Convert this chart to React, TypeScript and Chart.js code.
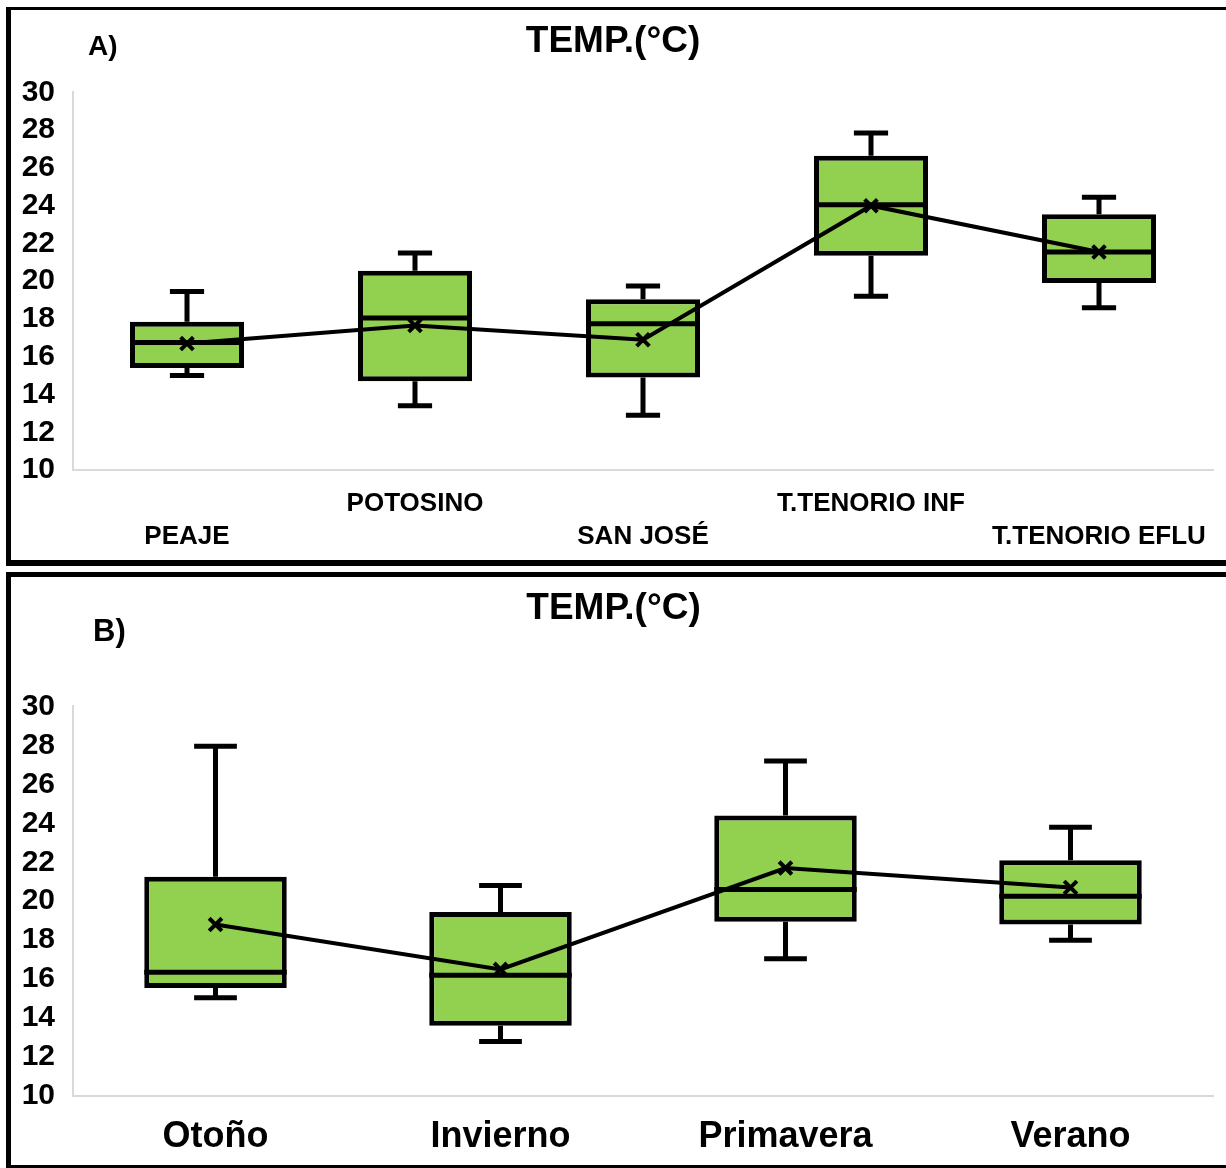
import React, { useEffect, useRef } from 'react';
import { Chart, registerables } from 'chart.js';

Chart.register(...registerables);

// ---------- Data ----------
const siteLabels = ['PEAJE', 'POTOSINO', 'SAN JOSÉ', 'T.TENORIO INF', 'T.TENORIO EFLU'];
const siteMin = [15.0, 13.4, 12.9, 19.2, 18.6];
const siteQ1 = [15.4, 14.7, 14.9, 21.35, 19.9];
const siteMedian = [16.75, 18.05, 17.75, 24.05, 21.55];
const siteQ3 = [17.85, 20.55, 19.05, 26.65, 23.55];
const siteMax = [19.45, 21.5, 19.75, 27.85, 24.45];
const siteMean = [16.7, 17.65, 16.9, 24.0, 21.55];

const seasonLabels = ['Otoño', 'Invierno', 'Primavera', 'Verano'];
const seasonMin = [15.05, 12.8, 17.05, 18.0];
const seasonQ1 = [15.55, 13.6, 18.95, 18.8];
const seasonMedian = [16.35, 16.2, 20.6, 20.25];
const seasonQ3 = [21.25, 19.45, 24.4, 22.1];
const seasonMax = [27.95, 20.8, 27.2, 23.8];
const seasonMean = [18.8, 16.5, 21.7, 20.7];

const yMin = 10;
const yMax = 30;
const yStep = 2;

const titleText = 'TEMP.(°C)';
const FONT = '"Liberation Sans", Arial, sans-serif';

// ---------- Plugins ----------
const whiskerPlugin = {
  id: 'whiskers',
  afterDatasetDraw(chart: any, args: any, opts: any) {
    if (args.meta.type !== 'bar' || !opts || !opts.min) return;
    const ctx = chart.ctx;
    const y = chart.scales.y;
    const { min, med, max, q1, q3 } = opts;
    ctx.save();
    ctx.strokeStyle = '#000';
    ctx.lineCap = 'butt';
    args.meta.data.forEach((bar: any, i: number) => {
      const { x, width } = bar.getProps(['x', 'width'], true);
      const cap = width * 0.3;
      const pMin = y.getPixelForValue(min[i]);
      const pMax = y.getPixelForValue(max[i]);
      const pQ1 = y.getPixelForValue(q1[i]);
      const pQ3 = y.getPixelForValue(q3[i]);
      const pMed = y.getPixelForValue(med[i]);
      ctx.lineWidth = 5;
      ctx.beginPath();
      ctx.moveTo(x, pQ3);
      ctx.lineTo(x, pMax);
      ctx.moveTo(x - cap / 2, pMax);
      ctx.lineTo(x + cap / 2, pMax);
      ctx.moveTo(x, pQ1);
      ctx.lineTo(x, pMin);
      ctx.moveTo(x - cap / 2, pMin);
      ctx.lineTo(x + cap / 2, pMin);
      ctx.stroke();
      ctx.beginPath();
      ctx.lineWidth = 5;
      ctx.moveTo(x - width / 2, pMed);
      ctx.lineTo(x + width / 2, pMed);
      ctx.stroke();
    });
    ctx.restore();
  },
};

const panelLabelPlugin = {
  id: 'panelLabel',
  afterDraw(chart: any, _args: any, opts: any) {
    if (!opts || !opts.text) return;
    const ctx = chart.ctx;
    ctx.save();
    ctx.fillStyle = '#000';
    ctx.font = `bold ${opts.size}px ${FONT}`;
    ctx.textAlign = 'left';
    ctx.textBaseline = 'middle';
    ctx.fillText(opts.text, opts.x, opts.y);
    ctx.restore();
  },
};

// ---------- Chart component ----------
type BoxProps = {
  labels: string[];
  stagger: boolean;
  min: number[];
  q1: number[];
  med: number[];
  q3: number[];
  max: number[];
  mean: number[];
  letter: string;
  letterX: number;
  letterY: number;
  letterSize: number;
  width: number;
  height: number;
  titleBottom: number;
  xAxisHeight: number;
  xFont: number;
  xLineHeight: number;
  xPadding: number;
  rightPad: number;
};

function BoxChart(p: BoxProps) {
  const ref = useRef<HTMLCanvasElement | null>(null);
  useEffect(() => {
    if (!ref.current) return;
    const chart = new Chart(ref.current, {
      type: 'bar',
      data: {
        labels: p.labels,
        datasets: [
          {
            type: 'line',
            label: 'Media',
            data: p.mean,
            borderColor: '#000',
            borderWidth: 4,
            pointStyle: 'crossRot',
            pointRadius: 9,
            pointBorderWidth: 4,
            pointBorderColor: '#000',
            pointBackgroundColor: '#000',
            fill: false,
            tension: 0,
            order: 0,
          } as any,
          {
            type: 'bar',
            label: 'Caja',
            data: p.q1.map((v, i) => [v, p.q3[i]]),
            backgroundColor: '#92d050',
            borderColor: '#000',
            borderWidth: 5,
            borderSkipped: false,
            barPercentage: 0.5,
            categoryPercentage: 1,
            order: 1,
          } as any,
        ],
      },
      options: {
        animation: false,
        responsive: false,
        devicePixelRatio: 1,
        layout: { padding: { left: 0, right: p.rightPad, top: 0, bottom: 0 } },
        plugins: {
          legend: { display: false },
          tooltip: { enabled: false },
          title: {
            display: true,
            text: titleText,
            color: '#000',
            font: { family: FONT, size: 37, weight: 'bold', lineHeight: 1.2 },
            padding: { top: 10, bottom: p.titleBottom },
          },
          whiskers: { min: p.min, med: p.med, max: p.max, q1: p.q1, q3: p.q3 },
          panelLabel: { text: p.letter, x: p.letterX, y: p.letterY, size: p.letterSize },
        } as any,
        scales: {
          x: {
            type: 'category',
            grid: { display: false, drawTicks: false },
            border: { display: true, color: '#d9d9d9', width: 2 },
            ticks: {
              color: '#000',
              autoSkip: false,
              maxRotation: 0,
              minRotation: 0,
              padding: p.xPadding,
              font: { family: FONT, size: p.xFont, weight: 'bold', lineHeight: p.xLineHeight },
              callback: (_v: any, i: number) =>
                p.stagger && i % 2 === 0 ? ['', p.labels[i]] : p.labels[i],
            },
            afterFit: (s: any) => {
              s.height = p.xAxisHeight;
            },
          },
          y: {
            min: yMin,
            max: yMax,
            grid: { display: false, drawTicks: false },
            border: { display: true, color: '#d9d9d9', width: 2 },
            ticks: {
              stepSize: yStep,
              autoSkip: false,
              color: '#000',
              padding: 18,
              font: { family: FONT, size: 30, weight: 'bold', lineHeight: 1.2 },
            },
            afterFit: (s: any) => {
              s.width = 62;
            },
          },
        },
      } as any,
      plugins: [whiskerPlugin, panelLabelPlugin],
    });
    return () => chart.destroy();
  }, []);
  return (
    <canvas
      ref={ref}
      width={p.width}
      height={p.height}
      style={{ width: p.width, height: p.height, display: 'block' }}
    />
  );
}

export default function App() {
  return (
    <div style={{ position: 'absolute', left: 0, top: 0, width: 1226, height: 1168, background: '#fff', overflow: 'hidden' }}>
      {/* Panel A frame */}
      <div
        style={{
          position: 'absolute',
          left: 6,
          top: 7,
          width: 1220,
          height: 559,
          boxSizing: 'border-box',
          borderLeft: '5px solid #000',
          borderTop: '3px solid #000',
          borderBottom: '6px solid #000',
        }}
      />
      <div style={{ position: 'absolute', left: 11, top: 10 }}>
        <BoxChart
          labels={siteLabels}
          stagger={true}
          min={siteMin}
          q1={siteQ1}
          med={siteMedian}
          q3={siteQ3}
          max={siteMax}
          mean={siteMean}
          letter="A)"
          letterX={77}
          letterY={37}
          letterSize={28}
          width={1215}
          height={550}
          titleBottom={28}
          xAxisHeight={90}
          xFont={26}
          xLineHeight={1.27}
          xPadding={17}
          rightPad={11}
        />
      </div>
      {/* Panel B frame */}
      <div
        style={{
          position: 'absolute',
          left: 6,
          top: 572,
          width: 1220,
          height: 596,
          boxSizing: 'border-box',
          borderLeft: '5px solid #000',
          borderTop: '5px solid #000',
          borderBottom: '3px solid #000',
        }}
      />
      <div style={{ position: 'absolute', left: 11, top: 577 }}>
        <BoxChart
          labels={seasonLabels}
          stagger={false}
          min={seasonMin}
          q1={seasonQ1}
          med={seasonMedian}
          q3={seasonQ3}
          max={seasonMax}
          mean={seasonMean}
          letter="B)"
          letterX={82}
          letterY={55}
          letterSize={31}
          width={1215}
          height={588}
          titleBottom={75}
          xAxisHeight={69}
          xFont={36}
          xLineHeight={1.2}
          xPadding={19}
          rightPad={10}
        />
      </div>
    </div>
  );
}
